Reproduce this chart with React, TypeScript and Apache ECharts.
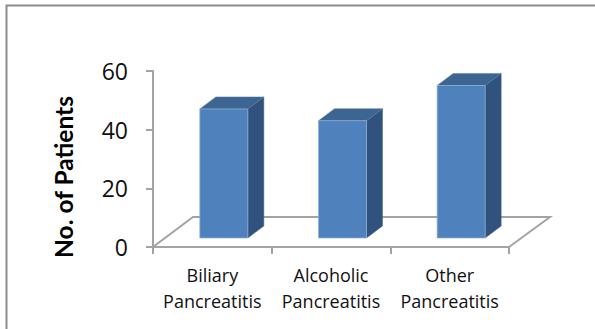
import React, { useEffect, useRef } from "react";
import * as echarts from "echarts";

const categories = ["Biliary\nPancreatitis", "Alcoholic\nPancreatitis", "Other\nPancreatitis"];
const patients = [44, 40, 52];
const yTicks = { min: 0, max: 60, interval: 20 };
const FONT = "'Open Sans', sans-serif";
const TITLE_FONT = "Lato, sans-serif";
const AXIS_GREY = "#a3a3a3";

// Oblique projection used for the pseudo-3D floor and columns
const DEPTH_X = 16;
const DEPTH_Y = 12;
const FLOOR_X = 40;
const FLOOR_Y = 30;
const BAR_LIFT = 9;
const BAR_SHIFT = 11.5;
const BAR_WIDTH = 48;

const renderFloor = (_params: any, api: any) => {
  const [x0, y0] = api.coord([0, 0]);
  const bandWidth = api.size([1, 0])[0];
  const left = x0 - bandWidth / 2;
  const right = left + bandWidth * categories.length;
  return {
    type: "polyline",
    silent: true,
    shape: {
      points: [
        [left, y0],
        [left + FLOOR_X, y0 - FLOOR_Y],
        [right + FLOOR_X + 1, y0 - FLOOR_Y],
        [right, y0],
      ],
    },
    style: { stroke: AXIS_GREY, lineWidth: 2, fill: "none" },
  };
};

const renderColumn = (_params: any, api: any) => {
  const [cx, baseY] = api.coord([api.value(0), 0]);
  const [, topY] = api.coord([api.value(0), api.value(1)]);
  const l = cx + BAR_SHIFT - BAR_WIDTH / 2;
  const r = l + BAR_WIDTH;
  const b = baseY - BAR_LIFT;
  const t = topY - BAR_LIFT;
  return {
    type: "group",
    children: [
      {
        type: "polygon",
        shape: { points: [[r, t], [r + DEPTH_X, t - DEPTH_Y], [r + DEPTH_X, b - DEPTH_Y], [r, b]] },
        style: { fill: "#30527c", stroke: "#3f628c", lineWidth: 0.5 },
      },
      {
        type: "polygon",
        shape: { points: [[l, t], [l + DEPTH_X, t - DEPTH_Y], [r + DEPTH_X, t - DEPTH_Y], [r, t]] },
        style: { fill: "#3d6592", stroke: "#5a7da6", lineWidth: 0.5 },
      },
      {
        type: "rect",
        shape: { x: l, y: t, width: BAR_WIDTH, height: b - t },
        style: { fill: "#4f81bd", stroke: "#8fb0d6", lineWidth: 0.75 },
      },
    ],
  };
};

export default function App() {
  const ref = useRef<HTMLDivElement>(null);

  useEffect(() => {
    const chart = echarts.init(ref.current!, null, { renderer: "svg" });
    chart.setOption({
      animation: false,
      backgroundColor: "#ffffff",
      graphic: [
        {
          type: "rect",
          silent: true,
          z: -1,
          shape: { x: 6.5, y: 5.5, width: 640, height: 380 },
          style: { fill: "none", stroke: "#8c8c8c", lineWidth: 2 },
        },
      ],
      grid: { left: 153, right: 86, top: 71, bottom: 82 },
      xAxis: {
        type: "category",
        data: categories,
        axisLine: { lineStyle: { color: AXIS_GREY, width: 2 } },
        axisTick: { show: true, length: 7, lineStyle: { color: AXIS_GREY, width: 2 } },
        axisLabel: {
          color: "#111111",
          fontFamily: FONT,
          fontSize: 18,
          lineHeight: 26,
          margin: 15,
          interval: 0,
        },
      },
      yAxis: {
        type: "value",
        ...yTicks,
        name: "No. of Patients",
        nameLocation: "middle",
        nameGap: 77,
        nameTextStyle: {
          color: "#000000",
          fontFamily: TITLE_FONT,
          fontSize: 24.5,
          fontWeight: "bold",
          padding: [0, 36, 0, 0],
        },
        splitLine: { show: false },
        axisLine: { show: true, lineStyle: { color: AXIS_GREY, width: 2 } },
        axisTick: { show: true, length: 7, lineStyle: { color: AXIS_GREY, width: 2 } },
        axisLabel: {
          color: "#111111",
          fontFamily: FONT,
          fontSize: 23,
          margin: 25,
          padding: [3, 0, 0, 0],
        },
      },
      series: [
        {
          type: "custom",
          clip: false,
          silent: true,
          z: 1,
          renderItem: renderFloor,
          data: [[0, 0]],
          encode: { x: 0, y: 1 },
        },
        {
          type: "custom",
          clip: false,
          z: 2,
          renderItem: renderColumn,
          data: patients.map((v, i) => [i, v]),
          encode: { x: 0, y: 1 },
        },
      ],
    });
    return () => chart.dispose();
  }, []);

  return (
    <div
      ref={ref}
      style={{ width: 595, height: 329, position: "absolute", left: 0, top: 0 }}
    />
  );
}
